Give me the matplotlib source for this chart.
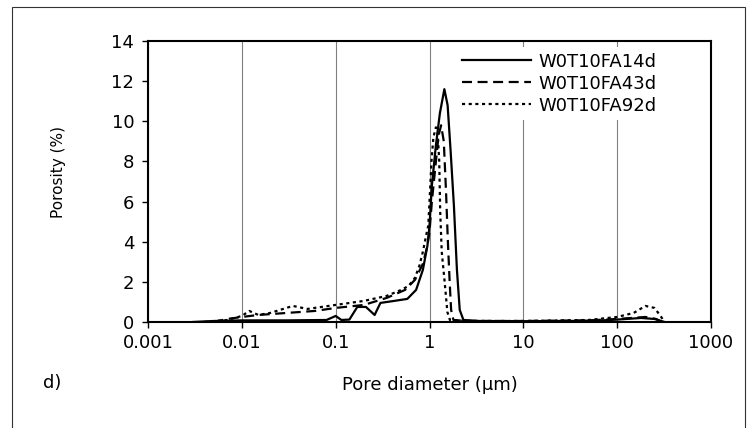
import numpy as np
import matplotlib
matplotlib.use("Agg")
import matplotlib.pyplot as plt
from matplotlib.patches import Rectangle

# pore diameter (um) / porosity (%)
d_14 = [0.003, 0.005, 0.01, 0.03, 0.08, 0.1, 0.115, 0.14, 0.17, 0.21, 0.26, 0.3, 0.42, 0.58,
        0.72, 0.85, 0.95, 1.0, 1.06, 1.17, 1.29, 1.44, 1.56, 1.68, 1.82, 1.96, 2.1, 2.3,
        3.4, 10, 30, 70, 100, 180, 250, 320]
p_14 = [0.0, 0.05, 0.08, 0.08, 0.1, 0.3, 0.1, 0.12, 0.75, 0.75, 0.35, 0.95, 1.05, 1.15,
        1.6, 2.6, 3.8, 4.8, 6.8, 8.8, 10.4, 11.6, 10.8, 8.5, 5.8, 2.6, 0.6, 0.1,
        0.05, 0.04, 0.05, 0.08, 0.12, 0.2, 0.15, 0.0]

d_43 = [0.005, 0.007, 0.01, 0.015, 0.03, 0.06, 0.1, 0.2, 0.35, 0.55, 0.7, 0.85, 0.95,
        1.0, 1.06, 1.17, 1.25, 1.33, 1.42, 1.5, 1.57, 1.64, 1.7, 1.8, 2.5, 10, 50,
        100, 200, 260, 300]
p_43 = [0.0, 0.15, 0.25, 0.35, 0.45, 0.55, 0.7, 0.85, 1.2, 1.6, 2.1, 2.9, 3.8,
        4.5, 6.0, 8.0, 9.3, 9.8, 9.0, 6.5, 4.0, 2.0, 0.6, 0.1, 0.05, 0.05, 0.08,
        0.15, 0.25, 0.15, 0.0]

d_92 = [0.004, 0.007, 0.01, 0.012, 0.015, 0.02, 0.035, 0.05, 0.1, 0.2, 0.35, 0.5, 0.6,
        0.7, 0.78, 0.85, 0.92, 0.97, 1.0, 1.05, 1.1, 1.17, 1.22, 1.27, 1.3, 1.35, 1.45,
        1.55, 1.65, 2.5, 10, 50, 100, 150, 200, 250, 290, 320]
p_92 = [0.0, 0.1, 0.3, 0.55, 0.35, 0.45, 0.8, 0.65, 0.85, 1.05, 1.3, 1.6, 1.8,
        2.2, 2.8, 3.5, 4.3, 4.8, 6.0, 8.0, 9.2, 9.7, 9.5, 8.0, 5.5, 3.5, 2.0,
        0.5, 0.1, 0.05, 0.05, 0.1, 0.25, 0.45, 0.8, 0.7, 0.3, 0.0]

labels = ["W0T10FA14d", "W0T10FA43d", "W0T10FA92d"]
xticks = [0.001, 0.01, 0.1, 1, 10, 100, 1000]
xticklabels = ["0.001", "0.01", "0.1", "1", "10", "100", "1000"]
yticks = [0, 2, 4, 6, 8, 10, 12, 14]

plt.rcParams['font.family'] = ['DejaVu Sans']

fig = plt.figure(figsize=(7.48, 4.28), dpi=100)
ax = fig.add_axes([0.1979, 0.2477, 0.7526, 0.6565])

ax.plot(d_14, p_14, '-', color='black', linewidth=1.6, label=labels[0])
ax.plot(d_43, p_43, color='black', linewidth=1.6, dashes=(4.5, 2.5), label=labels[1])
ax.plot(d_92, p_92, color='black', linewidth=1.6, dashes=(1.4, 1.6), label=labels[2])

ax.set_xscale('log')
ax.set_xlim(0.001, 1000)
ax.set_ylim(0, 14)
ax.set_xticks(xticks)
ax.set_xticklabels(xticklabels)
ax.xaxis.set_minor_locator(matplotlib.ticker.NullLocator())
ax.set_yticks(yticks)
ax.tick_params(axis='both', direction='out', length=4, width=1, labelsize=13, pad=5)
ax.tick_params(axis='y', pad=6)
ax.grid(True, axis='x', color='grey', linewidth=0.8)
ax.set_axisbelow(True)
for s in ax.spines.values():
    s.set_linewidth(1.5)

ax.set_xlabel("Pore diameter (µm)", fontsize=13, labelpad=17)
ax.set_ylabel("Porosity (%)", fontsize=11)
ax.yaxis.set_label_coords(-0.146, 0.534)

leg = ax.legend(loc='upper left', bbox_to_anchor=(0.548, 0.978), fontsize=13, frameon=True,
                handlelength=3.8, handletextpad=0.45, labelspacing=0.22,
                borderaxespad=0.0, borderpad=0.3)
leg.get_frame().set_edgecolor('none')
leg.get_frame().set_facecolor('white')
leg.get_frame().set_alpha(1)

fig.text(52 / 748, 1 - 383 / 428, "d)", fontsize=13, ha='center', va='center')
fig.patches.append(Rectangle((12 / 748, -0.01), 733 / 748, 1 - 7 / 428 + 0.01,
                             transform=fig.transFigure, fill=False,
                             edgecolor='#333333', linewidth=0.8))

fig.savefig("out.png", dpi=100)
